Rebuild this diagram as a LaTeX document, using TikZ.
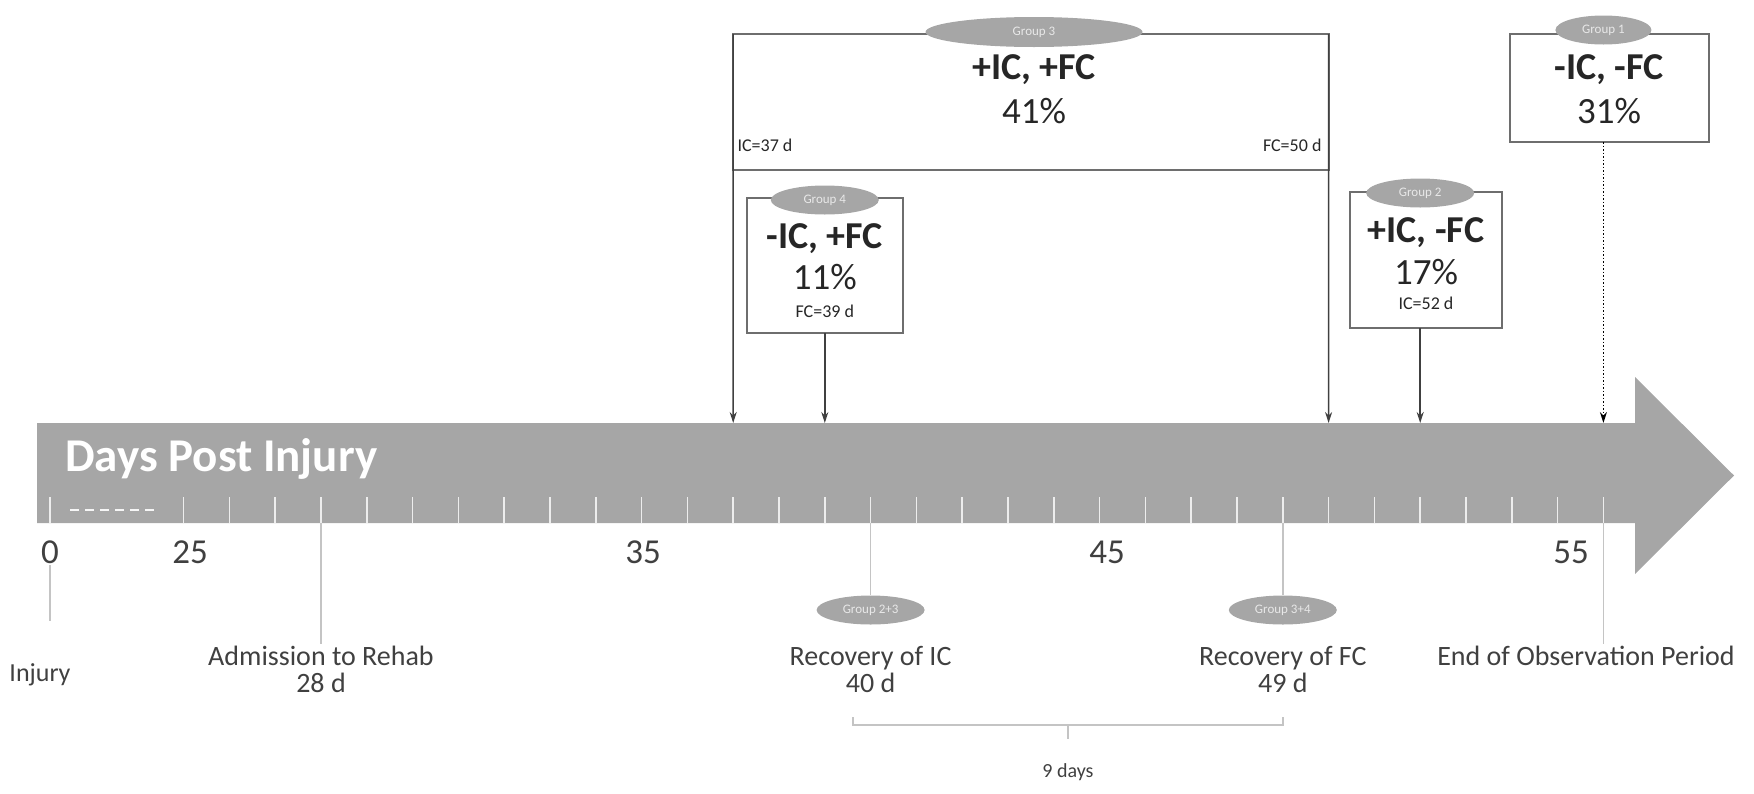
\documentclass[tikz,border=0pt]{standalone}
\usepackage{fontspec}
\setmainfont{Carlito}
\usepackage{tikz}
\usetikzlibrary{arrows.meta, positioning, shapes.geometric}
\definecolor{barGray}{HTML}{A6A6A6}
\definecolor{boxGray}{HTML}{6E6E6E}
\definecolor{arrowGray}{HTML}{404040}
\definecolor{inkBlack}{HTML}{262626}
\definecolor{labelGray}{HTML}{404040}
\definecolor{lineGray}{HTML}{C4C4C4}
\definecolor{tagText}{HTML}{E8E8E8}
\newcommand{\fsz}[1]{\fontsize{#1}{#1}\selectfont}

\begin{document}
\begin{tikzpicture}[x=1pt, y=-1pt,
  daytick/.style={draw=white!80!barGray, line width=1.5pt},
  breakdash/.style={draw=white!90!barGray, line width=1.5pt, dash pattern=on 9pt off 6pt},
  bartitle/.style={font=\fsz{47}\bfseries, text=white, inner sep=0pt},
  daynum/.style={font=\fsz{35}, text=labelGray},
  groupbox/.style={rectangle, draw=boxGray, line width=2pt, inner sep=0pt, outer sep=0pt},
  grouptag/.style={ellipse, fill=barGray, text=tagText, font=\fsz{13}, inner sep=0pt,
    minimum width=108, minimum height=29},
  headtext/.style={font=\fsz{38}\bfseries, text=inkBlack},
  pcttext/.style={font=\fsz{37}, text=inkBlack},
  daytext/.style={font=\fsz{18}, text=inkBlack},
  pointer/.style={draw=arrowGray, line width=1.5pt, -{Stealth[length=11pt, width=7pt]}},
  milestone/.style={draw=lineGray, line width=1.5pt},
  milelabel/.style={font=\fontsize{28}{27}\selectfont, text=labelGray, align=center, inner sep=2pt}
]
\useasboundingbox (0,0) rectangle (1754,793);

% timeline arrow
\fill[barGray] (37,423) -- (1635,423) -- (1635,377) -- (1734,475.5)
  -- (1635,574) -- (1635,523) -- (37,523) -- cycle;
\node[bartitle, anchor=base west] (title) at (65,471) {Days Post Injury};

% day ticks
\coordinate (bot0) at (50,523);
\draw[daytick] (bot0) -- ++(0,-26);
\draw[breakdash] (70,510) -- (156,510);
\foreach \d in {25,...,56}{
  \coordinate (top\d) at ({321+(\d-28)*45.8},423);
  \coordinate (bot\d) at ({321+(\d-28)*45.8},523);
  \draw[daytick] (bot\d) -- ++(0,-26);
}

% day numbers
\node[daynum] (n0) at (50,552) {0};
\node[daynum] (n25) at (190,552) {25};
\node[daynum] (n35) at (643,552) {35};
\node[daynum] (n45) at (1107,552) {45};
\node[daynum] (n55) at (1571,552) {55};

% milestones below the bar
\node[milelabel, font=\fsz{26}] (injury) at (40,675) {Injury};
\draw[milestone] (n0.south) ++(0,-2) -- (50,621);

\node[milelabel, anchor=north] (admit) at (321,644) {Admission to Rehab\\28 d};
\draw[milestone] (bot28) -- (admit.north);

\node[grouptag] (tag23) at (bot40 |- 0,610) {Group 2+3};
\node[milelabel, anchor=north] (recIC) at (bot40 |- 0,644) {Recovery of IC\\40 d};
\draw[milestone] (bot40) -- (tag23.north);

\node[grouptag] (tag34) at (bot49 |- 0,610) {Group 3+4};
\node[milelabel, anchor=north] (recFC) at (bot49 |- 0,644) {Recovery of FC\\49 d};
\draw[milestone] (bot49) -- (tag34.north);

\node[milelabel, anchor=north] (endobs) at (1586,644) {End of Observation Period};
\draw[milestone] (bot56) -- (endobs.north -| bot56);

% 9 days bracket
\coordinate (brkL) at (853,725);
\coordinate (brkR) at (1283,725);
\coordinate (brkM) at (1068,725);
\draw[milestone] (brkL) ++(0,-8) -- (brkL) -- (brkR) -- ++(0,-8);
\draw[milestone] (brkM) -- ++(0,14);
\node[font=\fsz{20}, text=labelGray] (ninedays) at (1068,772) {9 days};

% group 3
\node[groupbox, minimum width=595.4, minimum height=136] (g3box) at (1030.9,102) {};
\node[grouptag, minimum width=217, minimum height=30] (tag3) at (1034,32) {Group 3};
\node[headtext] (g3head) at (1034,70) {+IC, +FC};
\node[pcttext] (g3pct) at (1034,111) {41\%};
\node[daytext, anchor=west] (g3ic) at (734,145) {IC=37 d};
\node[daytext, anchor=east] (g3fc) at (1325,145) {FC=50 d};
\draw[pointer] (g3box.north west) -- (top37);
\draw[pointer] (g3box.north east) -- (top50);

% group 4
\node[groupbox, minimum width=156, minimum height=135] (g4box) at (top39 |- 0,265.5) {};
\node[grouptag] (tag4) at (top39 |- 0,200) {Group 4};
\node[headtext] (g4head) at (top39 |- 0,239) {-IC, +FC};
\node[pcttext] (g4pct) at (top39 |- 0,277) {11\%};
\node[daytext] (g4fc) at (top39 |- 0,311) {FC=39 d};
\draw[pointer] (g4box.south) -- (top39);

% group 2
\node[groupbox, minimum width=152, minimum height=136] (g2box) at (1426,260) {};
\node[grouptag] (tag2) at (top52 |- 0,193) {Group 2};
\node[headtext] (g2head) at (1426,233) {+IC, -FC};
\node[pcttext] (g2pct) at (1426,272) {17\%};
\node[daytext] (g2ic) at (1426,303) {IC=52 d};
\draw[pointer] (g2box.south -| top52) -- (top52);

% group 1
\node[groupbox, minimum width=199, minimum height=108] (g1box) at (1609.5,88) {};
\node[grouptag, minimum width=96] (tag1) at (top56 |- 0,30) {Group 1};
\node[headtext] (g1head) at (1609,70) {-IC, -FC};
\node[pcttext] (g1pct) at (1609,111) {31\%};
\draw[pointer, dotted, draw=black] (g1box.south -| top56) -- (top56);
\end{tikzpicture}
\end{document}
